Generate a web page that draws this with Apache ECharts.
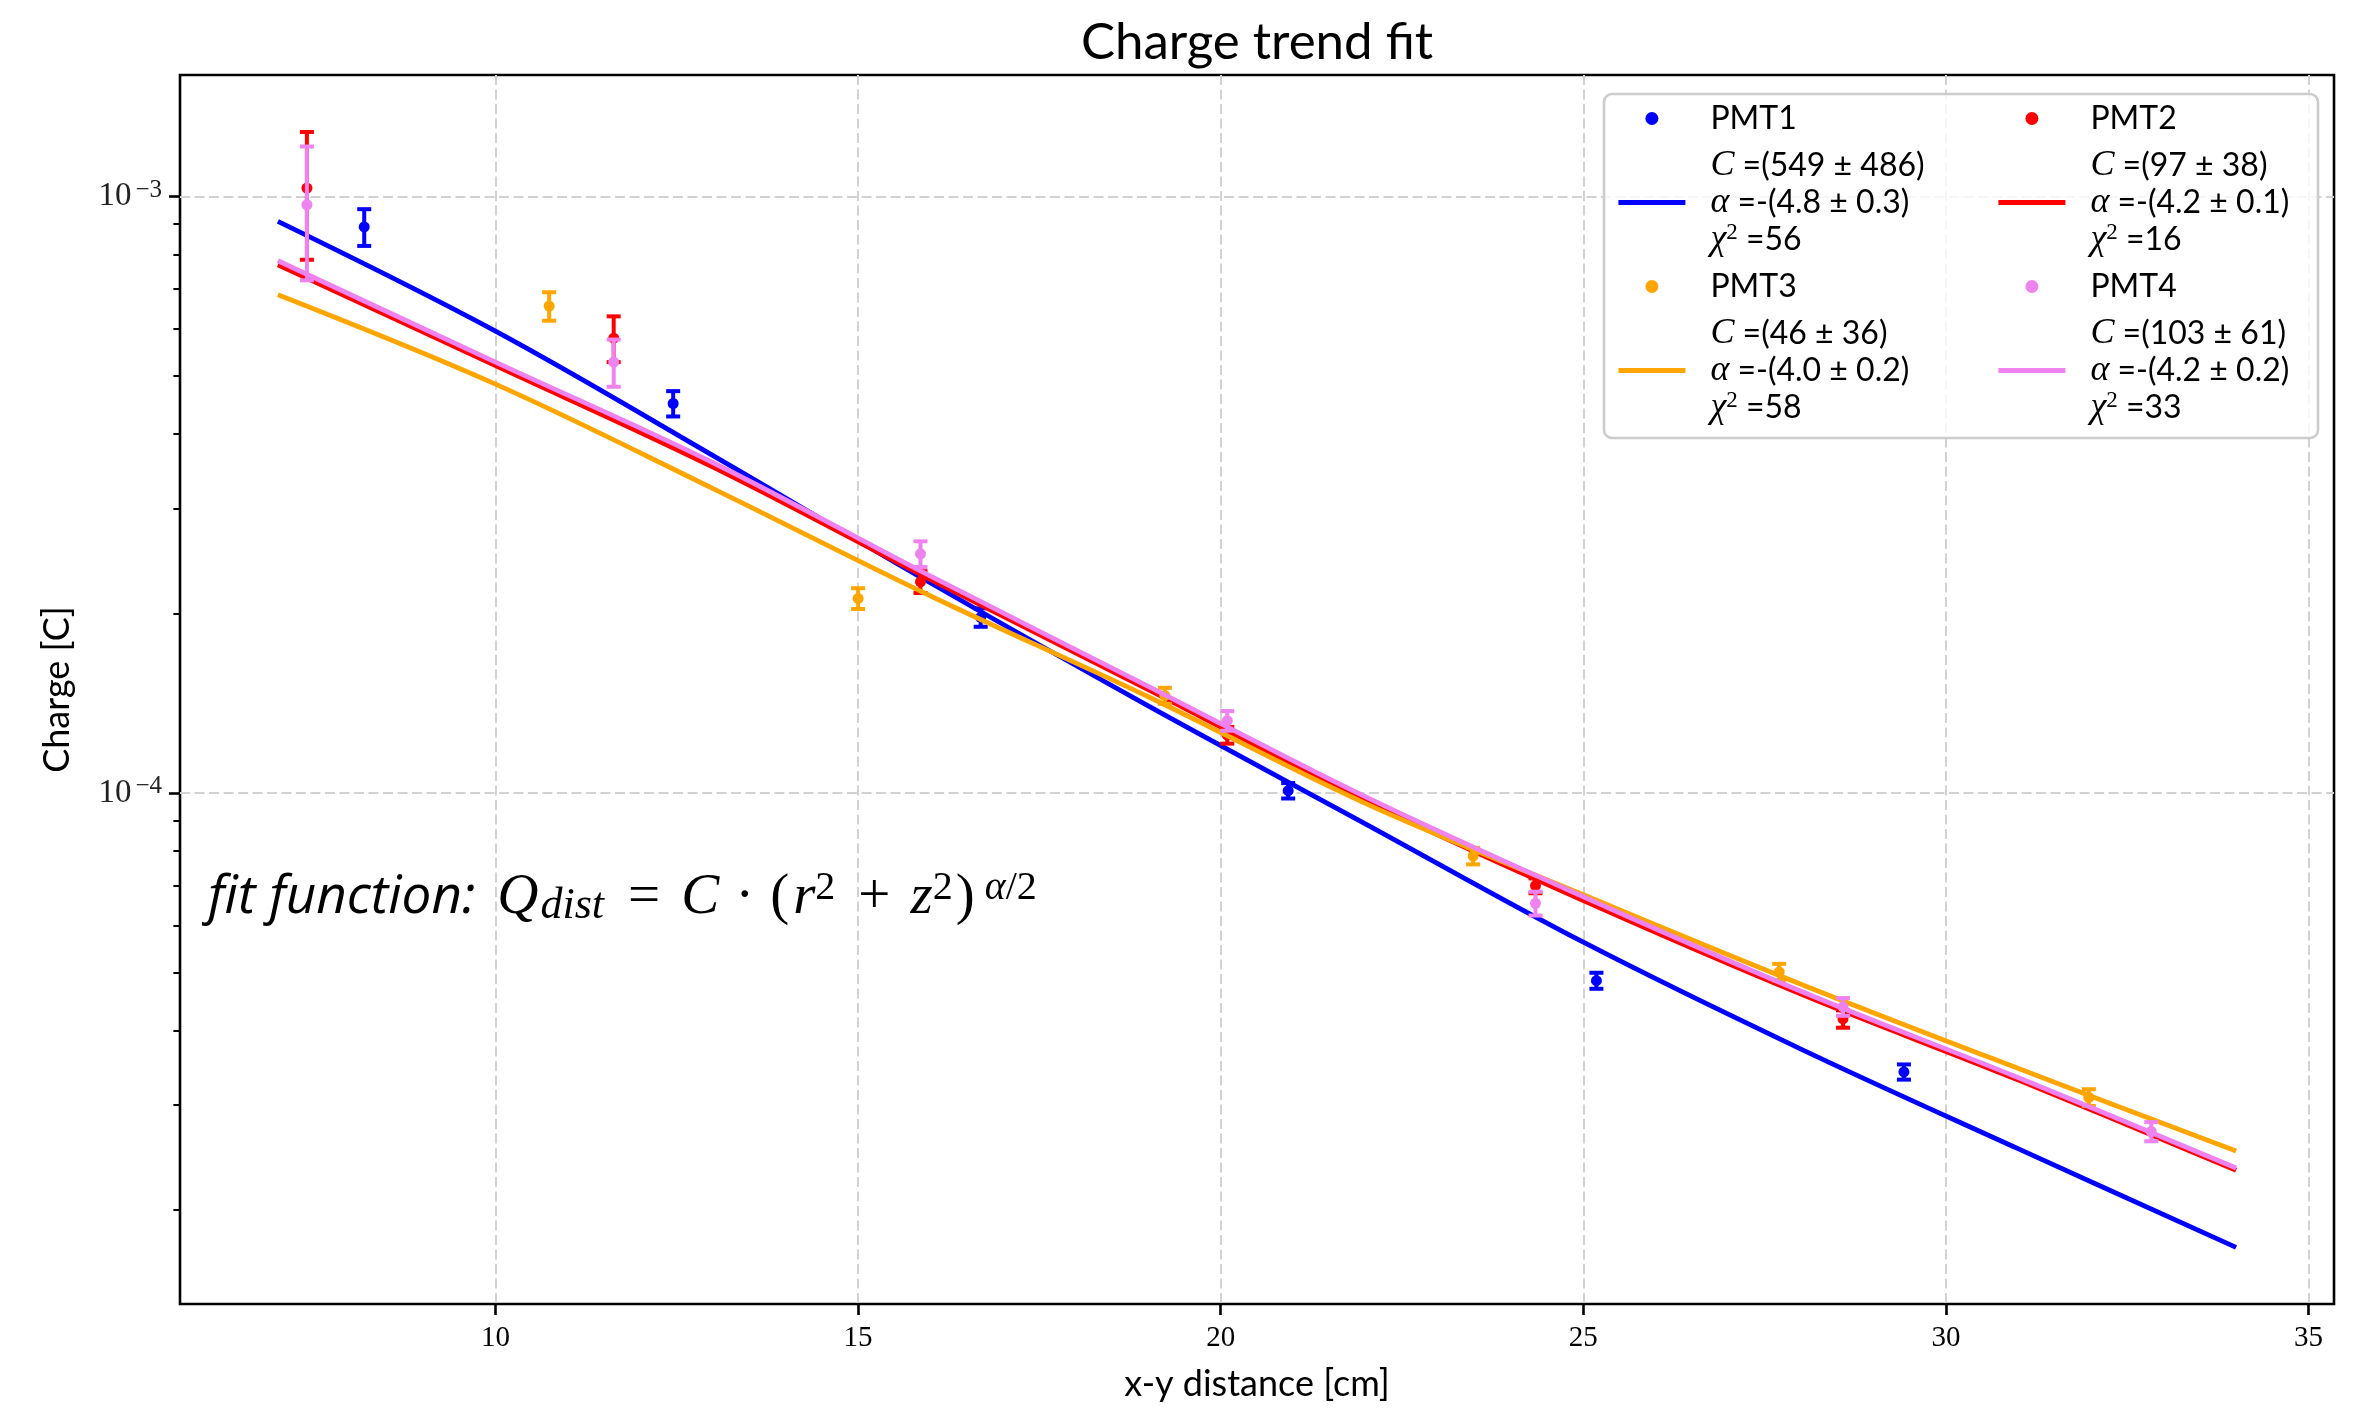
<!DOCTYPE html>
<html><head><meta charset="utf-8">
<script src="https://cdn.jsdelivr.net/npm/echarts@6/dist/echarts.min.js"></script>
<style>html,body{margin:0;padding:0;background:#fff}#c{width:2366px;height:1409px}</style>
</head><body><div id="c"></div>
<script>
// ---------- data ----------
const xTicks = [10, 15, 20, 25, 30, 35];
const yMajorTicks = [1e-4, 1e-3];
const yMinorTicks = [2e-5, 3e-5, 4e-5, 5e-5, 6e-5, 7e-5, 8e-5, 9e-5,
                     2e-4, 3e-4, 4e-4, 5e-4, 6e-4, 7e-4, 8e-4, 9e-4];

const pmtNames = ['PMT1', 'PMT2', 'PMT3', 'PMT4'];
const pmtColors = ['#0000ff', '#ff0000', '#ffa500', '#ee82ee'];

const pmt1X = [8.19, 12.45, 16.69, 20.93, 25.18, 29.42];
const pmt1Y = [8.9e-4, 4.5e-4, 1.97e-4, 1.009e-4, 4.845e-5, 3.406e-5];
const pmt1Err = [6.3e-5, 2.2e-5, 7e-6, 3e-6, 1.5e-6, 1.0e-6];

const pmt2X = [7.40, 11.63, 15.86, 20.09, 24.34, 28.58];
const pmt2Y = [1.034e-3, 5.79e-4, 2.26e-4, 1.25e-4, 6.99e-5, 4.18e-5];
const pmt2Err = [2.5e-4, 5.1e-5, 9.5e-6, 4e-6, 2e-6, 1.4e-6];

const pmt3X = [10.74, 15.0, 19.23, 23.48, 27.70, 31.97];
const pmt3Y = [6.555e-4, 2.12e-4, 1.456e-4, 7.84e-5, 5.01e-5, 3.086e-5];
const pmt3Err = [3.6e-5, 8.5e-6, 4.5e-6, 2.5e-6, 1.6e-6, 1.0e-6];

const pmt4X = [7.40, 11.63, 15.86, 20.09, 24.34, 28.58, 32.83];
const pmt4Y = [9.69e-4, 5.28e-4, 2.518e-4, 1.322e-4, 6.53e-5, 4.38e-5, 2.706e-5];
const pmt4Err = [2.45e-4, 4.8e-5, 1.25e-5, 5e-6, 3e-6, 1.5e-6, 1.0e-6];

const fitX = [7, 10, 13, 16, 19, 22, 25, 28, 31, 34];
const fit1Y = [9.09e-4, 5.95e-4, 3.68e-4, 2.25e-4, 1.40e-4, 8.87e-5, 5.62e-5, 3.72e-5, 2.53e-5, 1.73e-5];
const fit2Y = [7.69e-4, 5.21e-4, 3.52e-4, 2.28e-4, 1.49e-4, 9.7e-5, 6.6e-5, 4.6e-5, 3.3e-5, 2.33e-5];
const fit3Y = [6.85e-4, 4.85e-4, 3.24e-4, 2.14e-4, 1.45e-4, 9.6e-5, 6.75e-5, 4.78e-5, 3.45e-5, 2.51e-5];
const fit4Y = [7.81e-4, 5.28e-4, 3.58e-4, 2.31e-4, 1.51e-4, 9.85e-5, 6.7e-5, 4.65e-5, 3.33e-5, 2.35e-5];

const fitC = ['549 ± 486', '97 ± 38', '46 ± 36', '103 ± 61'];
const fitAlpha = ['4.8 ± 0.3', '4.2 ± 0.1', '4.0 ± 0.2', '4.2 ± 0.2'];
const fitChi2 = ['56', '16', '58', '33'];

const titleText = 'Charge trend fit';
const xName = 'x-y distance [cm]';
const yName = 'Charge [C]';

// ---------- build ----------
const pmtX = [pmt1X, pmt2X, pmt3X, pmt4X];
const pmtY = [pmt1Y, pmt2Y, pmt3Y, pmt4Y];
const pmtErr = [pmt1Err, pmt2Err, pmt3Err, pmt4Err];
const fitY = [fit1Y, fit2Y, fit3Y, fit4Y];

const fitNames = [], fitRich = {};
for (let i = 0; i < 4; i++) {
  const n = 'C =(' + fitC[i] + ')\nα =-(' + fitAlpha[i] + ')\nχ2 =' + fitChi2[i];
  fitNames.push(n);
  fitRich[n] = '{i|C} =(' + fitC[i] + ')\n{g|α} =-(' + fitAlpha[i] + ')\n{g|χ}{p|2} =' + fitChi2[i];
}

const SANS = 'Lato, "Open Sans", sans-serif';
const SERIF = '"Liberation Serif", "DejaVu Serif", serif';

const gridLine = { color: '#d2d2d2', width: 2, type: [10, 4.5] };

const series = [];
let z = 10;
for (let i = 0; i < 4; i++) {
  const col = pmtColors[i];
  const errData = pmtX[i].map((x, k) => [x, pmtY[i][k], pmtErr[i][k]]);
  series.push({
    type: 'custom', name: 'err' + (i + 1), z: z++, silent: true,
    xAxisIndex: 0, yAxisIndex: 0,
    encode: { x: 0, y: 1 },
    data: errData,
    renderItem: function (params, api) {
      const x = api.value(0), y = api.value(1), e = api.value(2);
      const t = api.coord([x, y + e]);
      const b = api.coord([x, y - e]);
      const cw = 7;
      const st = { stroke: col, lineWidth: 4 };
      return { type: 'group', children: [
        { type: 'line', shape: { x1: t[0], y1: t[1], x2: b[0], y2: b[1] }, style: st },
        { type: 'line', shape: { x1: t[0] - cw, y1: t[1], x2: t[0] + cw, y2: t[1] }, style: st },
        { type: 'line', shape: { x1: b[0] - cw, y1: b[1], x2: b[0] + cw, y2: b[1] }, style: st }
      ]};
    }
  });
  series.push({
    type: 'scatter', name: pmtNames[i], z: z++, silent: true,
    symbol: 'circle', symbolSize: 11,
    itemStyle: { color: col, opacity: 1 },
    data: pmtX[i].map((x, k) => [x, pmtY[i][k]])
  });
  series.push({
    type: 'line', name: fitNames[i], z: z++, silent: true,
    showSymbol: false, symbol: 'none', smooth: 0.35,
    lineStyle: { color: col, width: 4.8 },
    itemStyle: { color: col },
    data: fitX.map((x, k) => [x, fitY[i][k]])
  });
}

const legendText = {
  fontFamily: SANS, fontSize: 32, lineHeight: 37, color: '#000', padding: [0, 0, 0, 20],
  rich: {
    i: { fontFamily: SERIF, fontStyle: 'italic', fontSize: 36, lineHeight: 37 },
    g: { fontFamily: SERIF, fontStyle: 'italic', fontSize: 36, lineHeight: 37 },
    p: { fontFamily: SERIF, fontSize: 23, lineHeight: 16, verticalAlign: 'top' }
  }
};
function legendCol(left, idxs) {
  const data = [];
  idxs.forEach(i => {
    data.push({ name: pmtNames[i], icon: 'circle' });
    data.push({ name: fitNames[i], itemStyle: { opacity: 0 } });
  });
  return {
    left: left, top: 100, orient: 'vertical', itemGap: 10, itemWidth: 67, itemHeight: 13,
    padding: 0, selectedMode: false, z: 20, data: data,
    lineStyle: { width: 4.8 },
    formatter: n => fitRich[n] || n,
    textStyle: legendText
  };
}

const option = {
  animation: false,
  backgroundColor: '#fff',
  title: {
    text: titleText, left: 1257, top: 17, textAlign: 'center', padding: 0,
    textStyle: { fontFamily: SANS, fontSize: 51, fontWeight: 'normal', color: '#000' }
  },
  grid: { left: 180, right: 32, top: 75, bottom: 105, show: true, borderColor: '#000', borderWidth: 2.6, backgroundColor: '#fff' },
  legend: [legendCol(1616, [0, 2]), legendCol(1996, [1, 3])],
  xAxis: [{
    type: 'value', min: 5.65, max: 35.35,
    axisLine: { show: false },
    axisTick: { show: true, customValues: xTicks, length: 11, lineStyle: { color: '#000', width: 2.6 } },
    axisLabel: { customValues: xTicks, margin: 20, fontFamily: SERIF, fontSize: 29, color: '#000' },
    splitLine: { show: true, lineStyle: gridLine },
    name: xName, nameLocation: 'middle', nameGap: 62,
    nameTextStyle: { fontFamily: SANS, fontSize: 36, color: '#000' }
  }],
  yAxis: [{
    type: 'log', logBase: 10, min: 1.39e-5, max: 1.6e-3, position: 'left',
    axisLine: { show: false },
    axisTick: { show: true, customValues: yMajorTicks, length: 11, lineStyle: { color: '#000', width: 2.6 } },
    axisLabel: {
      customValues: yMajorTicks, margin: 18, color: '#000',
      formatter: v => '{b|10}{s|−' + Math.abs(Math.round(Math.log10(v))) + '}',
      rich: {
        b: { fontFamily: SERIF, fontSize: 33, lineHeight: 38, color: '#222' },
        s: { fontFamily: SERIF, fontSize: 25, lineHeight: 20, verticalAlign: 'top', color: '#222', padding: [0, 0, 0, 4] }
      }
    },
    splitLine: { show: true, lineStyle: gridLine },
    minorTick: { show: false },
    name: yName, nameLocation: 'middle', nameGap: 105,
    nameTextStyle: { fontFamily: SANS, fontSize: 36, color: '#000' }
  }, {
    type: 'log', logBase: 10, min: 1.39e-5, max: 1.6e-3, position: 'left',
    axisLine: { show: false },
    axisTick: { show: true, customValues: yMinorTicks, length: 6.6, lineStyle: { color: '#000', width: 2 } },
    axisLabel: { show: false },
    splitLine: { show: false }
  }],
  graphic: [
    { type: 'rect', z: 15, silent: true,
      shape: { x: 1604, y: 94, width: 714, height: 344, r: 8 },
      style: { fill: 'rgba(255,255,255,0.8)', stroke: '#cccccc', lineWidth: 2.6 } },
    { type: 'text', z: 15, silent: true, x: 208, y: 898,
      style: {
        text: '{f|fit function:}{m|Q}{sb|dist}{eq|=}{m|C}{d|·}{n|(}{m|r}{sp|2}{pl|+}{m|z}{sp|2}{n|)}{spi|α}{sq|/2}',
        verticalAlign: 'middle', align: 'left', fill: '#000',
        rich: {
          f: { fontFamily: '"Open Sans", Lato, sans-serif', fontStyle: 'italic', fontSize: 53, lineHeight: 60, fill: '#000', padding: [0, 22, 0, 0] },
          m: { fontFamily: SERIF, fontStyle: 'italic', fontSize: 57, lineHeight: 60, fill: '#000' },
          n: { fontFamily: SERIF, fontSize: 57, lineHeight: 60, fill: '#000', padding: [0, 4, 0, 0] },
          eq: { fontFamily: SERIF, fontSize: 57, lineHeight: 60, fill: '#000', padding: [0, 21, 0, 20] },
          d: { fontFamily: SERIF, fontSize: 57, lineHeight: 60, fill: '#000', padding: [0, 16, 0, 16] },
          pl: { fontFamily: SERIF, fontSize: 57, lineHeight: 60, fill: '#000', padding: [0, 20, 0, 20] },
          sb: { fontFamily: SERIF, fontStyle: 'italic', fontSize: 44, lineHeight: 36, verticalAlign: 'bottom', fill: '#000', padding: [0, 4, 0, 2] },
          sp: { fontFamily: SERIF, fontSize: 40, lineHeight: 15, verticalAlign: 'top', fill: '#000', padding: [0, 3, 0, 0] },
          sq: { fontFamily: SERIF, fontSize: 40, lineHeight: 15, verticalAlign: 'top', fill: '#000' },
          spi: { fontFamily: SERIF, fontStyle: 'italic', fontSize: 40, lineHeight: 15, verticalAlign: 'top', fill: '#000', padding: [0, 0, 0, 6] }
        }
      } }
  ],
  series: series
};

const chart = echarts.init(document.getElementById('c'), null, { renderer: 'canvas' });
chart.setOption(option);
</script>
</body></html>
